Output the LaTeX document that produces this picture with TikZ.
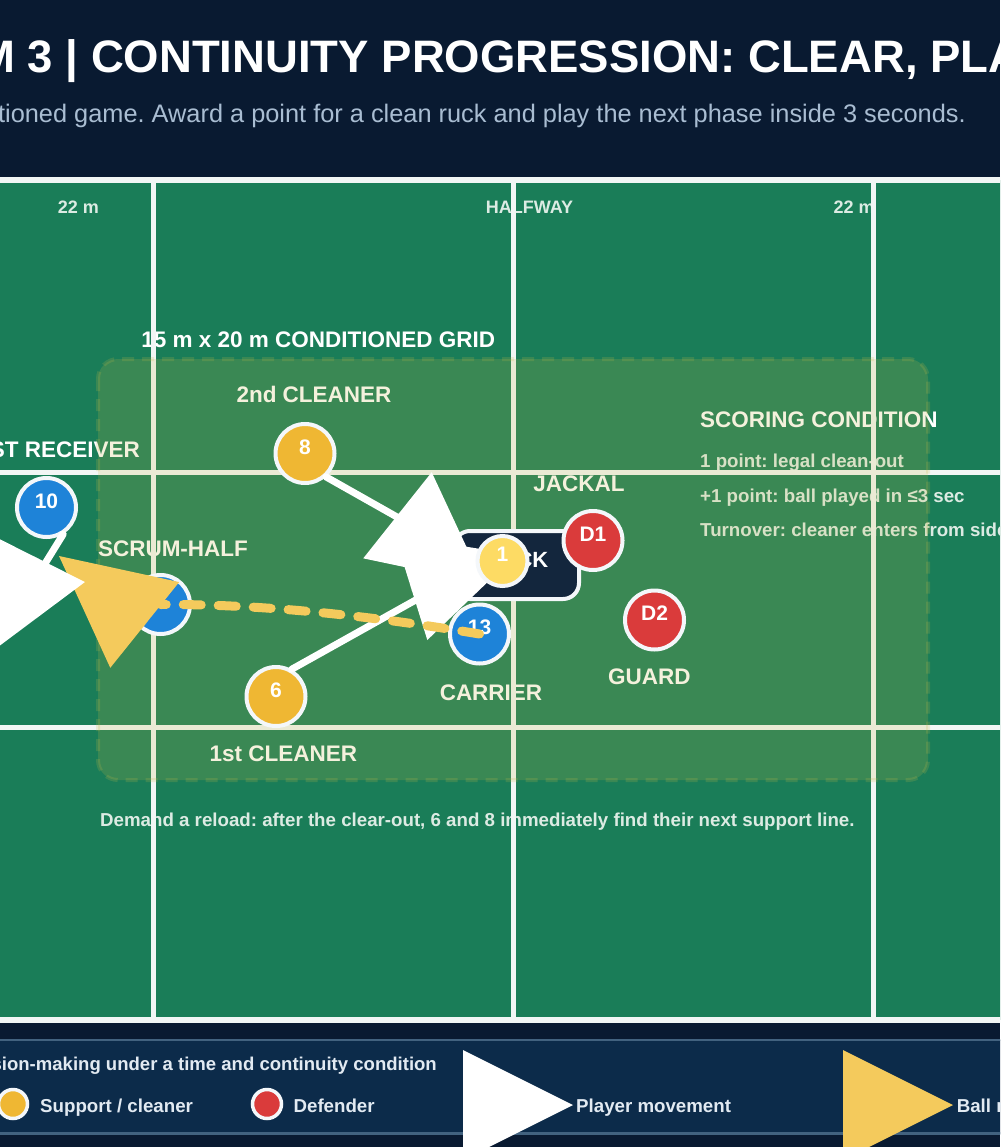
\documentclass[tikz,border=0pt]{standalone}
\usepackage{fontspec}
\setmainfont{Liberation Sans}
\usetikzlibrary{arrows.meta}
\frenchspacing

\definecolor{night}{HTML}{091A31}
\definecolor{pitch}{HTML}{1A7D58}
\definecolor{chalk}{HTML}{F2F6F5}
\definecolor{gridtint}{RGB}{200,184,72}
\definecolor{subgrey}{HTML}{A9BDD2}
\definecolor{fieldtext}{HTML}{DCEBE3}
\definecolor{attack}{HTML}{1E83D8}
\definecolor{support}{HTML}{EFB733}
\definecolor{prop}{HTML}{FDDB64}
\definecolor{defend}{HTML}{DA3B3B}
\definecolor{ballc}{HTML}{F4CA5C}
\definecolor{ruckbg}{HTML}{13263D}
\definecolor{panel}{HTML}{0C2B4A}
\definecolor{panelrim}{HTML}{42627F}
\definecolor{rim}{HTML}{F4F7FA}
\definecolor{keytext}{HTML}{E2EAF2}

\tikzset{
  role/.style={font=\bfseries\fontsize{22.5}{27}\selectfont, text=white, inner sep=0pt},
  note/.style={font=\bfseries\fontsize{18.7}{22}\selectfont, text=fieldtext, inner sep=0pt},
  player/.style={circle, draw=rim, line width=4pt, minimum size=59pt, inner sep=0pt, text=white,
    font=\bfseries\fontsize{21}{24}\selectfont, text height=15pt, text depth=14pt},
  key/.style={circle, draw=rim, line width=3.5pt, minimum size=29pt, inner sep=0pt},
  chalkline/.style={draw=chalk, line width=5pt},
  move/.style={draw=white, line width=7pt, line cap=round},
  ball/.style={draw=ballc, line width=9pt, line cap=round, dash pattern=on 18pt off 17pt},
  tip/.style={line cap=butt, -{Triangle[length=110pt 0 0, width=110pt 0 0, line width=0pt 0 0]}},
}

\begin{document}
\begin{tikzpicture}[x=1pt, y=-1pt]
  \useasboundingbox (0,0) rectangle (1000,1147);
  \clip (0,0) rectangle (1000,1147);
  \fill[night] (0,0) rectangle (1000,1147);

  \node[anchor=base west, inner sep=0pt, text=white, font=\bfseries\fontsize{45.5}{50}\selectfont] (title)
    at (-23,73) {M 3 | CONTINUITY PROGRESSION: CLEAR, PLAY};
  \node[anchor=base east, inner sep=0pt, text=subgrey, font=\fontsize{25.35}{30}\selectfont] (subtitle)
    at (966,123) {tioned game. Award a point for a clean ruck and play the next phase inside 3 seconds.};

  % pitch
  \filldraw[fill=pitch, draw=chalk, line width=6pt] (-10,180) rectangle (1010,1020);
  \foreach \t/\x [count=\k] in {22 m/78.5, HALFWAY/529.5, 22 m/854}
    \node[note, anchor=base, font=\bfseries\fontsize{18}{22}\selectfont] (mark\k) at (\x,213.5) {\t};
  \node[role, anchor=base] (gridname) at (318.3,347) {15 m x 20 m CONDITIONED GRID};
  \node[role, anchor=base east] (receiver) at (140,457) {FIRST RECEIVER};
  \foreach \t/\x/\y [count=\k] in {2nd CLEANER/314/402.7, SCRUM-HALF/173/556.7, 1st CLEANER/283.3/761.7,
      CARRIER/491/700.7, GUARD/649.4/684, JACKAL/579/491}
    \node[role, anchor=base] (role\k) at (\x,\y) {\t};
  \node[role, anchor=base west] (scoring) at (700,427.3) {SCORING CONDITION};
  \foreach \t [count=\k] in {1 point: legal clean-out, +1 point: ball played in ≤3 sec,
      Turnover: cleaner enters from side}
    \node[note, anchor=base west] (score\k) at (700,432.6+34.7*\k) {\t};
  \node[note, anchor=base west] (reload) at (100,826.7)
    {Demand a reload: after the clear-out, 6 and 8 immediately find their next support line.};

  \foreach \x in {153,513,873}
    \draw[chalkline] (\x,180) -- (\x,1020);
  \foreach \y in {472,727}
    \draw[chalkline] (-10,\y) -- (1010,\y);
  \filldraw[fill=gridtint, draw=gridtint, fill opacity=0.19, draw opacity=0.19, line width=4pt,
    dash pattern=on 12pt off 8pt, rounded corners=20pt] (98,359) rectangle (928,780);

  \node[draw=rim, line width=4pt, fill=ruckbg, rounded corners=16pt, minimum width=125pt, minimum height=68pt,
    inner sep=0pt, text=white, font=\bfseries\fontsize{22}{26}\selectfont, text height=16pt, text depth=12pt]
    (ruck) at (516.5,565) {RUCK};

  \foreach \nm/\x/\y/\c/\t in {p10/46.5/507.5/attack/10, p8/305/453.5/support/8,
      p6/276/696.5/support/6, sh/160.5/604.5/attack/{}}
    \node[player, fill=\c] (\nm) at (\x,\y) {\t};

  \coordinate (a8end) at (420,530);
  \coordinate (a8base) at (397.5,515.3);
  \coordinate (a8tip) at (483.6,583.7);
  \coordinate (b6end) at (430,592);
  \coordinate (b6base) at (411,587.5);
  \coordinate (b6tip) at (516,554.8);
  \draw[move] (p8.-48) -- (a8end);
  \draw[move, tip] (a8base) -- (a8tip);
  \draw[move] (p6.60) -- (b6end);
  \draw[move, tip] (b6base) -- (b6tip);

  \node[player, fill=prop, minimum size=50pt] (p1) at (502.5,561) {1};
  \foreach \nm/\x/\y/\c/\t in {p13/479.5/634/attack/13, d1/593/540.5/defend/D1, d2/654.5/620/defend/D2}
    \node[player, fill=\c] (\nm) at (\x,\y) {\t};

  \coordinate (passbase) at (144.7,624.9);
  \coordinate (passtip) at (59,556);
  \draw[ball] (p13.center) .. controls (360,614) and (254,604) .. (sh.center);
  \draw[ball, tip] (passbase) -- (passtip);

  \coordinate (m10end) at (38,575);
  \coordinate (m10base) at (35.8,557.3);
  \coordinate (m10tip) at (-13.6,655.6);
  \draw[move] (p10.-58) -- (m10end);
  \draw[move, tip] (m10base) -- (m10tip);

  % key
  \filldraw[fill=panel, draw=panelrim, line width=2.5pt] (-10,1040) rectangle (1010,1133.5);
  \node[note, anchor=base east, text=keytext, font=\bfseries\fontsize{18.55}{22}\selectfont] (keyhead)
    at (437,1070) {Decision-making under a time and continuity condition};
  \node[key, fill=support] (keysupport) at (13,1104) {};
  \node[note, anchor=base west, text=keytext] (keysupporttext) at (40,1112.3) {Support / cleaner};
  \node[key, fill=defend] (keydefend) at (267,1104) {};
  \node[note, anchor=base west, text=keytext] (keydefendtext) at (293.4,1112.3) {Defender};
  \coordinate (keymove) at (463,1105);
  \coordinate (keymovetip) at (573,1105);
  \draw[move, tip] (keymove) -- (keymovetip);
  \node[note, anchor=base west, text=keytext] (keymovetext) at (576,1112.3) {Player movement};
  \coordinate (keyball) at (843,1105);
  \coordinate (keyballtip) at (953,1105);
  \draw[ball, tip] (keyball) -- (keyballtip);
  \node[note, anchor=base west, text=keytext] (keyballtext) at (956.6,1112.3) {Ball movement};
\end{tikzpicture}
\end{document}
